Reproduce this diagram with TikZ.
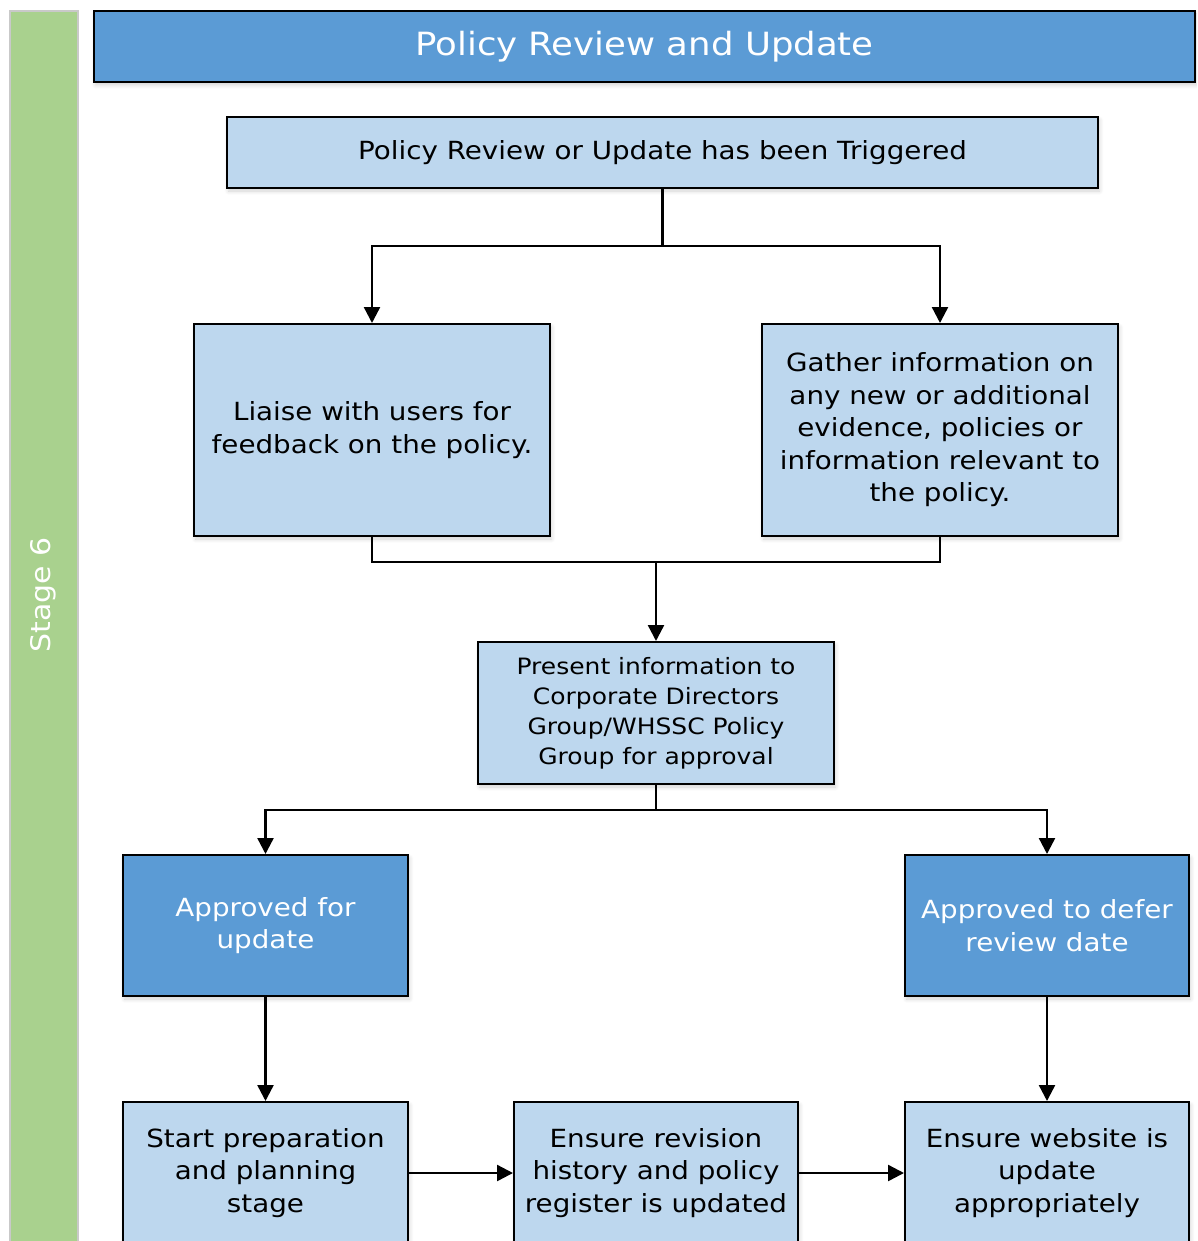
\documentclass[tikz,border=0pt]{standalone}
\usepackage{fontspec}
\setmainfont{DejaVu Sans}[FakeStretch=1.11]
\usetikzlibrary{arrows.meta,shadows.blur}
\definecolor{stagegreen}{HTML}{A9D18E}
\definecolor{stageedge}{HTML}{C9C9C9}
\definecolor{darkblue}{HTML}{5B9BD5}
\definecolor{lightblue}{HTML}{BDD7EE}
\tikzset{
  softshadow/.style={blur shadow={shadow xshift=1.5pt,shadow yshift=-3pt,shadow blur steps=6,shadow opacity=18,shadow blur radius=4pt}},
  lightbox/.style={draw=black,line width=2pt,fill=lightblue,align=center,inner sep=0pt,softshadow},
  darkbox/.style={draw=black,line width=2pt,fill=darkblue,text=white,align=center,inner sep=0pt,softshadow},
  bodytext/.style={font=\fontsize{25}{32.5}\selectfont},
  smalltext/.style={font=\fontsize{22.5}{30}\selectfont},
  link/.style={draw=black,line width=2.4pt},
  arrow/.style={link,-{Triangle[length=16pt,width=16pt]}}
}
\begin{document}
\begin{tikzpicture}[x=1pt,y=-1pt]
\useasboundingbox (0,0) rectangle (1197,1241);
\clip (0,0) rectangle (1197,1241);
% stage band
\node[draw=stageedge,line width=2pt,fill=stagegreen,minimum width=68pt,minimum height=1250pt,inner sep=0pt,anchor=north west] (band) at (9,10) {};
\node[rotate=90,text=white,font=\fontsize{27}{32}\selectfont] (stage) at (43,595) {Stage 6};
% title
\node[darkbox,minimum width=1101pt,minimum height=71pt,font=\fontsize{32}{38}\selectfont] (title) at (644.5,46.5) {Policy Review and Update};
% boxes
\node[lightbox,bodytext,minimum width=871pt,minimum height=71pt] (trig) at (662.5,152.5) {Policy Review or Update has been Triggered};
\node[lightbox,bodytext,minimum width=356pt,minimum height=212pt] (lia) at (372,430) {Liaise with users for\\feedback on the policy.};
\node[lightbox,bodytext,minimum width=356pt,minimum height=212pt] (gat) at (940,430) {Gather information on\\any new or additional\\evidence, policies or\\information relevant to\\the policy.};
\node[lightbox,smalltext,minimum width=356pt,minimum height=142pt] (pres) at (656,713) {Present information to\\Corporate Directors\\Group/WHSSC Policy\\Group for approval};
\node[darkbox,bodytext,minimum width=285pt,minimum height=141pt] (appu) at (265.5,925.5) {Approved for\\update};
\node[darkbox,bodytext,minimum width=284pt,minimum height=141pt] (appd) at (1047,925.5) {Approved to defer\\review date};
\node[lightbox,bodytext,minimum width=285pt,minimum height=142pt] (prep) at (265.5,1173) {Start preparation\\and planning\\stage};
\node[lightbox,bodytext,minimum width=284pt,minimum height=142pt] (rev) at (656,1173) {Ensure revision\\history and policy\\register is updated};
\node[lightbox,bodytext,minimum width=284pt,minimum height=142pt] (web) at (1047,1173) {Ensure website is\\update\\appropriately};
% junctions
\coordinate (j1) at (662.5,246);
\coordinate (j2) at (656,562);
\coordinate (j3) at (656,810);
% connectors
\draw[link] (trig.south) -- (j1);
\draw[arrow] (j1) -| (lia.north);
\draw[arrow] (j1) -| (gat.north);
\draw[link] (lia.south) |- (j2);
\draw[link] (gat.south) |- (j2);
\draw[arrow] (j2) -- (pres.north);
\draw[link] (pres.south) -- (j3);
\draw[arrow] (j3) -| (appu.north);
\draw[arrow] (j3) -| (appd.north);
\draw[arrow] (appu.south) -- (prep.north);
\draw[arrow] (appd.south) -- (web.north);
\draw[arrow] (prep.east) -- (rev.west);
\draw[arrow] (rev.east) -- (web.west);
\end{tikzpicture}
\end{document}
